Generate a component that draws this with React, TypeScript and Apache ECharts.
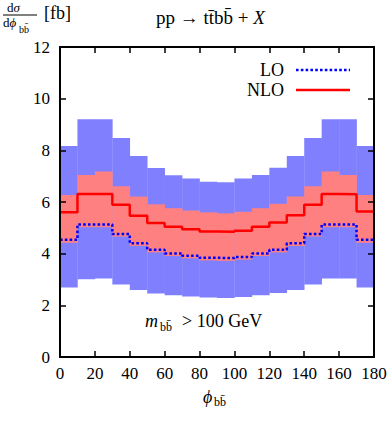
import React, { useEffect, useRef } from "react";
import * as echarts from "echarts";

const binLeft = [0, 10, 20, 30, 40, 50, 60, 70, 80, 90, 100, 110, 120, 130, 140, 150, 160, 170];
const binWidth = 10;
const loBandHigh = [8.17, 9.2, 9.2, 8.48, 7.78, 7.32, 7.04, 6.91, 6.78, 6.76, 6.91, 7.05, 7.33, 7.78, 8.48, 9.2, 9.2, 8.17];
const loBandLow = [2.69, 3.01, 3.04, 2.81, 2.59, 2.46, 2.39, 2.34, 2.3, 2.28, 2.32, 2.39, 2.48, 2.59, 2.81, 3.04, 3.04, 2.69];
const nloBandHigh = [6.27, 7.05, 7.18, 6.61, 6.21, 5.91, 5.76, 5.67, 5.6, 5.56, 5.62, 5.76, 5.93, 6.21, 6.61, 7.18, 7.05, 6.27];
const nloBandLow = [4.42, 5.02, 5.02, 4.66, 4.3, 4.05, 3.91, 3.82, 3.74, 3.72, 3.77, 3.91, 4.05, 4.3, 4.66, 5.02, 5.02, 4.42];
const loCentral = [4.54, 5.13, 5.13, 4.76, 4.4, 4.15, 4.01, 3.92, 3.84, 3.83, 3.87, 4.01, 4.15, 4.4, 4.76, 5.13, 5.13, 4.54];
const nloCentral = [5.6, 6.31, 6.31, 5.89, 5.47, 5.19, 5.04, 4.95, 4.86, 4.85, 4.89, 5.04, 5.21, 5.49, 5.89, 6.31, 6.3, 5.63];
const xRange = [0, 180];
const yRange = [0, 12];

const FONT = "Liberation Serif";

function bandData(low: number[], high: number[]) {
  return binLeft.map((x, i) => [x, x + binWidth, low[i], high[i]]);
}
function stepData(vals: number[]) {
  const d = binLeft.map((x, i) => [x, vals[i]]);
  d.push([binLeft[binLeft.length - 1] + binWidth, vals[vals.length - 1]]);
  return d;
}

function bandSeries(name: string, data: number[][], color: string) {
  return {
    type: "custom",
    name,
    data,
    encode: { x: [0, 1], y: [2, 3] },
    renderItem: (params: any, api: any) => {
      const p1 = api.coord([api.value(0), api.value(3)]);
      const p2 = api.coord([api.value(1), api.value(2)]);
      return {
        type: "rect",
        shape: { x: p1[0], y: p1[1], width: p2[0] - p1[0] + 0.3, height: p2[1] - p1[1] },
        style: { fill: color },
      };
    },
    silent: true,
  };
}

const axisCommon = {
  axisLine: { show: true, onZero: false, lineStyle: { color: "#000", width: 2 } },
  axisTick: { show: true, inside: true, length: 6, lineStyle: { color: "#000", width: 1.5 } },
  splitLine: { show: false },
  z: 10,
};

export default function App() {
  const ref = useRef<HTMLDivElement>(null);
  useEffect(() => {
    if (!ref.current) return;
    const chart = echarts.init(ref.current, null, { renderer: "svg" });
    const labelStyle = { color: "#000", fontSize: 17, fontFamily: FONT };
    chart.setOption({
      animation: false,
      backgroundColor: "#fff",
      grid: { left: 60, right: 18, top: 47, bottom: 65 },
      xAxis: [
        { type: "value", min: xRange[0], max: xRange[1], interval: 20, position: "bottom", ...axisCommon, axisLabel: { ...labelStyle, margin: 8 } },
        { type: "value", min: xRange[0], max: xRange[1], interval: 20, position: "top", ...axisCommon, axisLabel: { show: false } },
      ],
      yAxis: [
        { type: "value", min: yRange[0], max: yRange[1], interval: 2, position: "left", ...axisCommon, axisLabel: { ...labelStyle, margin: 10 } },
        { type: "value", min: yRange[0], max: yRange[1], interval: 2, position: "right", ...axisCommon, axisLabel: { show: false } },
      ],
      series: [
        bandSeries("LO band", bandData(loBandLow, loBandHigh), "#8080ff"),
        bandSeries("NLO band", bandData(nloBandLow, nloBandHigh), "#ff8080"),
        {
          type: "line",
          name: "LO",
          step: "end",
          data: stepData(loCentral),
          symbol: "none",
          lineStyle: { color: "#0000ff", width: 2.5, type: [2.6, 2.2] },
          z: 4,
        },
        {
          type: "line",
          name: "NLO",
          step: "end",
          data: stepData(nloCentral),
          symbol: "none",
          lineStyle: { color: "#ff0000", width: 2.5 },
          z: 5,
        },
      ],
      graphic: [
        // y-axis label fraction
        { type: "text", left: 7, top: 1, style: { text: "d{i|σ}", font: `13px ${FONT}`, fill: "#000", rich: { i: { fontStyle: "italic", fontSize: 13, fontFamily: FONT } } } },
        { type: "line", shape: { x1: 3, y1: 15, x2: 37, y2: 15 }, style: { stroke: "#000", lineWidth: 1 } },
        { type: "text", left: 3, top: 16, style: { text: "d{i|ϕ}", font: `13px ${FONT}`, fill: "#000", rich: { i: { fontStyle: "italic", fontSize: 13, fontFamily: FONT } } } },
        { type: "text", left: 19, top: 24, style: { text: "bb\u0304", font: `10px ${FONT}`, fill: "#000" } },
        { type: "text", left: 44, top: 4, style: { text: "[fb]", font: `18px ${FONT}`, fill: "#000" } },
        // title
        { type: "text", left: 156, top: 8, style: { text: "pp \u2192 tt\u0304bb\u0304 + {i|X}", font: `19px ${FONT}`, fill: "#000", rich: { i: { fontStyle: "italic", fontSize: 19, fontFamily: FONT } } } },
        // legend
        { type: "text", right: 392 - 284, top: 61, style: { text: "LO", font: `18px ${FONT}`, fill: "#000" } },
        { type: "line", shape: { x1: 296, y1: 70, x2: 350, y2: 70 }, style: { stroke: "#0000ff", lineWidth: 2.5, lineDash: [2.6, 2.2] } },
        { type: "text", right: 392 - 284, top: 81, style: { text: "NLO", font: `18px ${FONT}`, fill: "#000" } },
        { type: "line", shape: { x1: 296, y1: 90, x2: 350, y2: 90 }, style: { stroke: "#ff0000", lineWidth: 2.5 } },
        // annotation
        { type: "text", left: 145, top: 312, style: { text: "m", font: `italic 18px ${FONT}`, fill: "#000" } },
        { type: "text", left: 160, top: 321, style: { text: "bb\u0304", font: `12px ${FONT}`, fill: "#000" } },
        { type: "text", left: 182, top: 312, style: { text: "> 100 GeV", font: `18px ${FONT}`, fill: "#000" } },
        // x-axis name
        { type: "text", left: 203, top: 388, style: { text: "ϕ", font: `italic 18px ${FONT}`, fill: "#000" } },
        { type: "text", left: 214, top: 396, style: { text: "bb\u0304", font: `12px ${FONT}`, fill: "#000" } },
      ],
    });
    return () => chart.dispose();
  }, []);
  return <div ref={ref} style={{ position: "fixed", left: 0, top: 0, width: 392, height: 422 }} />;
}
